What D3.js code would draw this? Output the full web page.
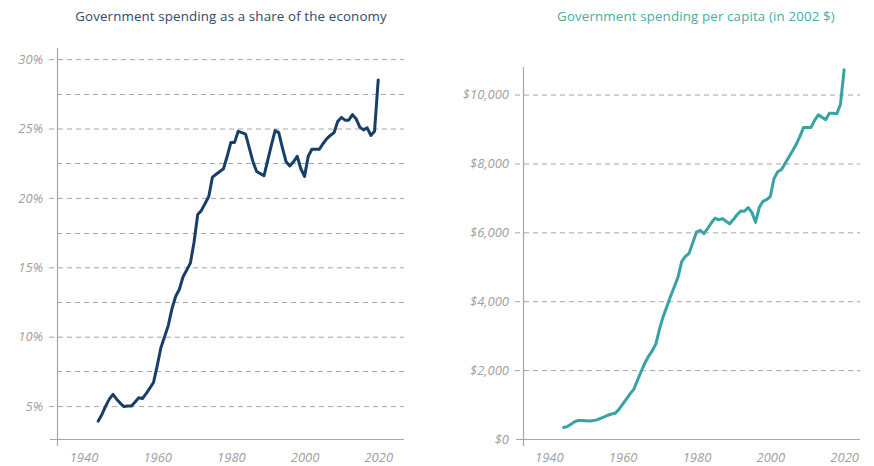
<!DOCTYPE html>
<meta charset="utf-8">
<script src="https://d3js.org/d3.v7.min.js"></script>
<style>
  body { margin: 0; background: #fff; }
  text { font-family: "Open Sans", sans-serif; }
</style>
<div id="chart"></div>
<script>

// data
var years = d3.range(1944, 2021);

var shareOfEconomy = [
  3.92, 4.4, 5.0, 5.5, 5.85, 5.5, 5.2, 4.97, 5.0, 5.0,
  5.3, 5.6, 5.55, 5.9, 6.3, 6.7, 7.9, 9.2, 10.0, 10.8,
  12.0, 12.9, 13.4, 14.3, 14.8, 15.3, 16.8, 18.8, 19.1, 19.6,
  20.1, 21.5, 21.7, 21.9, 22.1, 23.0, 24.0, 24.0, 24.8, 24.7,
  24.6, 23.6, 22.6, 21.9, 21.75, 21.6, 22.7, 23.8, 24.85, 24.7,
  23.6, 22.6, 22.3, 22.6, 23.0, 22.1, 21.55, 23.0, 23.5, 23.5,
  23.5, 23.9, 24.25, 24.5, 24.7, 25.5, 25.8, 25.6, 25.6, 26.0,
  25.7, 25.1, 24.9, 25.05, 24.5, 24.8, 28.5
];

var perCapita = [
  335, 360, 430, 500, 540, 535, 530, 522, 535, 555,
  600, 640, 690, 725, 750, 860, 1010, 1160, 1310, 1440,
  1700, 1960, 2200, 2400, 2560, 2760, 3200, 3560, 3850, 4150,
  4420, 4700, 5150, 5300, 5390, 5700, 6010, 6060, 5960, 6110,
  6270, 6410, 6360, 6400, 6320, 6250, 6370, 6510, 6620, 6610,
  6720, 6580, 6290, 6720, 6900, 6950, 7040, 7560, 7760, 7820,
  8000, 8180, 8360, 8550, 8780, 9040, 9040, 9040, 9250, 9410,
  9340, 9270, 9460, 9460, 9440, 9710, 10720
];

var xTicks = [1940, 1960, 1980, 2000, 2020];
var shareTicks = [5, 10, 15, 20, 25, 30];
var shareMinorTicks = [7.5, 12.5, 17.5, 22.5, 27.5];
var capitaTicks = [0, 2000, 4000, 6000, 8000, 10000];

var width = 874, height = 466;

var svg = d3.select("#chart")
  .append("svg")
    .attr("width", width)
    .attr("height", height);

function drawPanel(opt) {
  var g = svg.append("g");

  var x = d3.scaleLinear().domain(opt.xDomain).range([opt.left, opt.right]);
  var y = d3.scaleLinear().domain(opt.yDomain).range([opt.bottom, opt.top]);

  // title
  g.append("text")
    .attr("x", opt.titleX)
    .attr("y", 21)
    .attr("text-anchor", "middle")
    .style("font-size", "13.3px")
    .style("letter-spacing", "0.15px")
    .style("fill", opt.titleColor)
    .text(opt.title);

  // minor gridlines (no labels)
  g.selectAll(".minor")
    .data(opt.minorTicks)
    .enter()
    .append("line")
      .attr("x1", opt.left)
      .attr("x2", opt.right)
      .attr("y1", function(d) { return Math.round(y(d)) + 0.5; })
      .attr("y2", function(d) { return Math.round(y(d)) + 0.5; })
      .attr("stroke", "#a6a6a6")
      .attr("stroke-dasharray", "5,4");

  // y axis with dashed gridlines
  var yAxis = g.append("g")
    .attr("transform", "translate(" + opt.left + ",0)")
    .call(d3.axisLeft(y)
      .tickValues(opt.yTicks)
      .tickSize(-(opt.right - opt.left))
      .tickPadding(15)
      .tickFormat(opt.yFormat));
  yAxis.select(".domain").remove();
  yAxis.selectAll(".tick line")
    .attr("x1", -8)
    .attr("stroke", "#a6a6a6")
    .attr("stroke-dasharray", "5,4")
    .filter(function(d) { return d === opt.yDomain[0]; })
    .remove();
  yAxis.selectAll(".tick text")
    .style("font-size", "13px")
    .style("font-style", "italic")
    .style("fill", "#a0a0a0")
    .attr("x", -14);

  // x axis
  var xAxis = g.append("g")
    .attr("transform", "translate(0," + opt.bottom + ")")
    .call(d3.axisBottom(x)
      .tickValues(xTicks)
      .tickSize(0)
      .tickPadding(14)
      .tickFormat(d3.format("d")));
  xAxis.select(".domain").remove();
  xAxis.selectAll(".tick text")
    .style("font-size", "13px")
    .style("font-style", "italic")
    .style("fill", "#a0a0a0");

  // axis lines (crossing at the corner)
  g.append("line")
    .attr("x1", opt.left - 7).attr("x2", opt.right)
    .attr("y1", opt.bottom + 0.5).attr("y2", opt.bottom + 0.5)
    .attr("stroke", "#a6a6a6").attr("stroke-width", 1.2);
  g.append("line")
    .attr("x1", opt.left + 0.5).attr("x2", opt.left + 0.5)
    .attr("y1", opt.top).attr("y2", opt.bottom + 7)
    .attr("stroke", "#a6a6a6").attr("stroke-width", 1.2);

  // the line
  var line = d3.line()
    .x(function(d, i) { return x(years[i]); })
    .y(function(d) { return y(d); });

  g.append("path")
    .datum(opt.values)
    .attr("fill", "none")
    .attr("stroke", opt.color)
    .attr("stroke-width", 3)
    .attr("stroke-linejoin", "round")
    .attr("stroke-linecap", "round")
    .attr("d", line);
}

drawPanel({
  title: "Government spending as a share of the economy",
  titleX: 231,
  titleColor: "#2c4a6e",
  color: "#173f69",
  values: shareOfEconomy,
  xDomain: [1932.8, 2027],
  left: 57, right: 404,
  yDomain: [2.63, 30.8],
  top: 48, bottom: 439,
  yTicks: shareTicks,
  minorTicks: shareMinorTicks,
  yFormat: function(d) { return d + "%"; }
});

drawPanel({
  title: "Government spending per capita (in 2002 $)",
  titleX: 696,
  titleColor: "#46abab",
  color: "#37a3a3",
  values: perCapita,
  xDomain: [1933, 2024.3],
  left: 523, right: 860,
  yDomain: [0, 10800],
  top: 67, bottom: 439,
  yTicks: capitaTicks,
  minorTicks: [],
  yFormat: function(d) { return "$" + d3.format(",")(d); }
});

</script>
